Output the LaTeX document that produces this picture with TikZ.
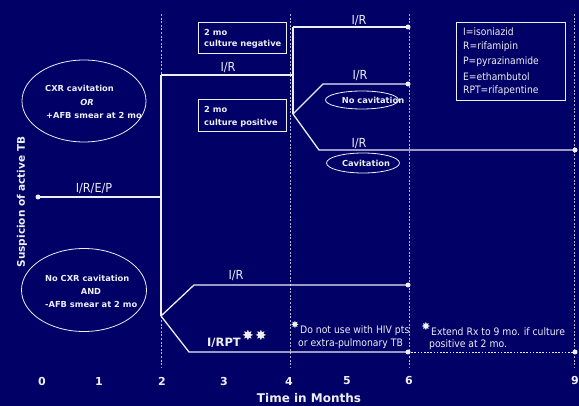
\documentclass[tikz,border=0pt]{standalone}
\usepackage{fontspec}
\setmainfont{DejaVu Sans}
\newfontfamily\condfont{DejaVu Sans Condensed}
\usetikzlibrary{shapes.geometric}
\definecolor{navy}{RGB}{0,0,102}
\definecolor{ink}{RGB}{238,238,246}
\begin{document}
\begin{tikzpicture}[x=1pt,y=-1pt,
  rx/.style={draw=ink, line width=1.3pt, line join=miter},
  gridline/.style={draw=ink!75!navy, line width=0.5pt, dash pattern=on 2pt off 1.6pt},
  dotline/.style={draw=ink, line width=0.8pt, dash pattern=on 1.6pt off 1.6pt},
  enddot/.style={circle, fill=ink, inner sep=0pt, minimum size=5pt},
  thin/.style={text=ink, inner sep=0pt, font=\condfont\fontsize{12.5}{14}\selectfont},
  note/.style={text=ink, inner sep=0pt, font=\condfont\fontsize{10.2}{12}\selectfont},
  fnote/.style={text=ink, inner sep=0pt, font=\condfont\fontsize{10.3}{12}\selectfont},
  heavy/.style={text=ink, inner sep=0pt, font=\bfseries\fontsize{8.3}{10}\selectfont},
  axisnum/.style={text=ink, inner sep=0pt, font=\bfseries\fontsize{11}{13}\selectfont},
  starmark/.style={text=ink, inner sep=0pt, font=\fontsize{#1}{#1}\selectfont},
  oval/.style={ellipse, draw=ink, line width=0.8pt, inner sep=0pt},
  panel/.style={draw=ink, line width=0.8pt, inner sep=0pt}
]
% background
\fill[navy] (0,0) rectangle (579,406);
\useasboundingbox (0,0) rectangle (579,406);

% month grid lines
\foreach \gx/\gn in {161/two, 290/four, 409/six, 574/nine} {
  \coordinate (gt\gn) at (\gx,14);
  \coordinate (gb\gn) at (\gx,368);
  \draw[gridline] (gt\gn) -- (gb\gn);
}

% month numbers
\foreach \mx/\ml in {42/0, 99/1, 162/2, 224/3, 289/4, 347/5, 409/6, 575/9}
  \node[axisnum] (m\ml) at (\mx,381) {\ml};
\node[text=ink, inner sep=0pt, font=\bfseries\fontsize{12}{14}\selectfont] (xlabel) at (309,398) {Time in Months};
\node[text=ink, inner sep=0pt, rotate=90, font=\bfseries\fontsize{10.5}{12}\selectfont] (ylabel) at (22,202) {Suspicion of active TB};

% treatment path junctions
\coordinate (s) at (38,197);
\coordinate (a) at (161,197);
\coordinate (b) at (161,75);
\coordinate (c) at (161,316);
\coordinate (d) at (293,75);
\coordinate (e) at (293,27);
\coordinate (f) at (293,114);
\coordinate (g) at (408,27);
\coordinate (h) at (323,84);
\coordinate (i) at (408,84);
\coordinate (k) at (319,150);
\coordinate (l) at (575,150);
\coordinate (m) at (194,285);
\coordinate (n) at (408,285);
\coordinate (o) at (189,352);
\coordinate (p) at (408,352);
\coordinate (q) at (575,352);

\draw[rx] (s) -- (a);
\draw[rx] (b) -- (c);
\draw[rx] (b) -- (d);
\draw[rx] (e) -- (f);
\draw[rx] (e) -- (g);
\draw[rx] (f) -- (h) -- (i);
\draw[rx] (f) -- (k) -- (l);
\draw[rx] (c) -- (m) -- (n);
\draw[rx] (c) -- (o) -- (p);
\draw[dotline] (p) -- (q);

\foreach \pt in {s,g,i,l,n,p,q}
  \node[enddot] (dot\pt) at (\pt) {};

% regimen labels
\node[thin] (lirep) at (94,189) {I/R/E/P};
\node[thin] (lir1) at (228,68) {I/R};
\node[thin] (lir2) at (359,21) {I/R};
\node[thin] (lir3) at (360,76) {I/R};
\node[thin] (lir4) at (359,144) {I/R};
\node[thin] (lir5) at (236,276) {I/R};
\node[text=ink, inner sep=0pt, font=\bfseries\fontsize{11.5}{13}\selectfont] (lirpt) at (224,343) {I/RPT};
\node[starmark=14] (star1) at (248,335) {✸};
\node[starmark=14] (star2) at (261,335) {✸};

% patient groups
\node[oval, minimum width=124pt, minimum height=82pt] (grpA) at (84,101) {};
\node[heavy, anchor=west] (grpA1) at (45,88) {CXR cavitation};
\node[heavy, font=\bfseries\itshape\fontsize{8.3}{10}\selectfont] (grpA2) at (87,102) {OR};
\node[heavy, anchor=west] (grpA3) at (46,115) {+AFB smear at 2 mo};

\node[oval, minimum width=125pt, minimum height=83pt] (grpB) at (84,290) {};
\node[heavy, anchor=west] (grpB1) at (45,278) {No CXR cavitation};
\node[heavy] (grpB2) at (91,291) {AND};
\node[heavy, anchor=west] (grpB3) at (45,304) {-AFB smear at 2 mo};

% culture results at 2 months
\node[panel, minimum width=88pt, minimum height=31pt] (cneg) at (242,37.5) {};
\node[heavy, anchor=west] (cneg1) at (204,32) {2 mo};
\node[heavy, anchor=west] (cneg2) at (204,44.5) {culture negative};
\node[panel, minimum width=88pt, minimum height=32pt] (cpos) at (242,115) {};
\node[heavy, anchor=west] (cpos1) at (204,109) {2 mo};
\node[heavy, anchor=west] (cpos2) at (204,123) {culture positive};

% chest x-ray findings
\node[oval, minimum width=73pt, minimum height=18pt] (nocav) at (362,100) {};
\node[heavy] (nocavt) at (373,100) {No cavitation};
\node[oval, minimum width=73pt, minimum height=20pt] (cav) at (363,163) {};
\node[heavy] (cavt) at (366,163) {Cavitation};

% drug legend
\node[panel, minimum width=109pt, minimum height=78pt] (legend) at (510.5,61) {};
\foreach \ly/\lt in {32/I=isoniazid, 47/R=rifamipin, 62/P=pyrazinamide, 77/E=ethambutol, 91/RPT=rifapentine}
  \node[note, anchor=west] at (463,\ly) {\lt};

% footnotes
\node[starmark=10] (st1) at (295,325) {✸};
\node[fnote, anchor=west] (fn1a) at (300,331) {Do not use with HIV pts};
\node[fnote, anchor=west] (fn1b) at (298,344) {or extra-pulmonary TB};
\node[starmark=11] (st2) at (426,326) {✸};
\node[fnote, anchor=west] (fn2a) at (431,332) {Extend Rx to 9 mo. if culture};
\node[fnote, anchor=west] (fn2b) at (429,345) {positive at 2 mo.};
\end{tikzpicture}
\end{document}
